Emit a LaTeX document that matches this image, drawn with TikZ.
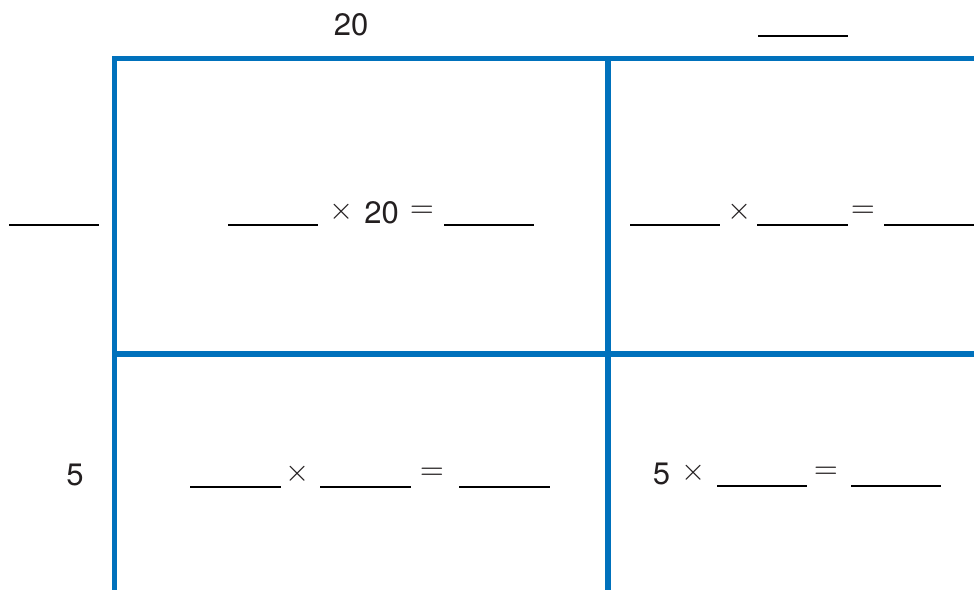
\documentclass[tikz,border=0pt]{standalone}
\usepackage{fontspec}
\setmainfont{TeX Gyre Heros}
\definecolor{gridblue}{RGB}{0,113,188}
\definecolor{ink}{RGB}{35,31,32}
\tikzset{
  x=1pt,y=-1pt,
  gridline/.style={draw=gridblue,line width=5pt},
  midline/.style={draw=gridblue,line width=6.5pt},
  blank/.style={draw=black,line width=2.6pt},
  txt/.style={inner sep=0pt,outer sep=0pt,text=ink,font=\fontsize{31}{31}\selectfont},
  num/.style={txt,anchor=base},
  sym/.style={inner sep=0pt,outer sep=0pt,text=ink,font=\fontsize{10}{10}\selectfont,scale=3.1,anchor=center},
}
\begin{document}
\begin{tikzpicture}
\useasboundingbox (0,0) rectangle (974,590);
% grid
\draw[gridline] (112.3,58.5) -- (974,58.5);
\draw[gridline] (114.8,56) -- (114.8,590);
\draw[midline] (608,56) -- (608,590);
\draw[midline] (114.8,354) -- (974,354);
% column / row labels
\node[num] (c1) at (351,35) {20};
\draw[blank] (758,36) -- (848,36);
\draw[blank] (9,225) -- (99,225);
\node[num] (r2) at (75,485) {5};
% row 1, cell 1
\draw[blank] (228,225) -- (318,225);
\node[sym] (x11) at (342,212) {$\times$};
\node[num] (n11) at (381.5,223.5) {20};
\node[sym] (e11) at (422,212) {$=$};
\draw[blank] (444,225) -- (534,225);
% row 1, cell 2
\draw[blank] (630,225) -- (720,225);
\node[sym] (x12) at (740,212) {$\times$};
\draw[blank] (757,225) -- (848,225);
\node[sym] (e12) at (863,212) {$=$};
\draw[blank] (884,225) -- (974,225);
% row 2, cell 1
\draw[blank] (190,487) -- (281,487);
\node[sym] (x21) at (298,474) {$\times$};
\draw[blank] (320,487) -- (411,487);
\node[sym] (e21) at (432,474) {$=$};
\draw[blank] (459,487) -- (550,487);
% row 2, cell 2
\node[num] (n22) at (661.5,484) {5};
\node[sym] (x22) at (693.5,473) {$\times$};
\draw[blank] (717,486) -- (807,486);
\node[sym] (e22) at (826,473) {$=$};
\draw[blank] (851,486) -- (941,486);
\end{tikzpicture}
\end{document}
